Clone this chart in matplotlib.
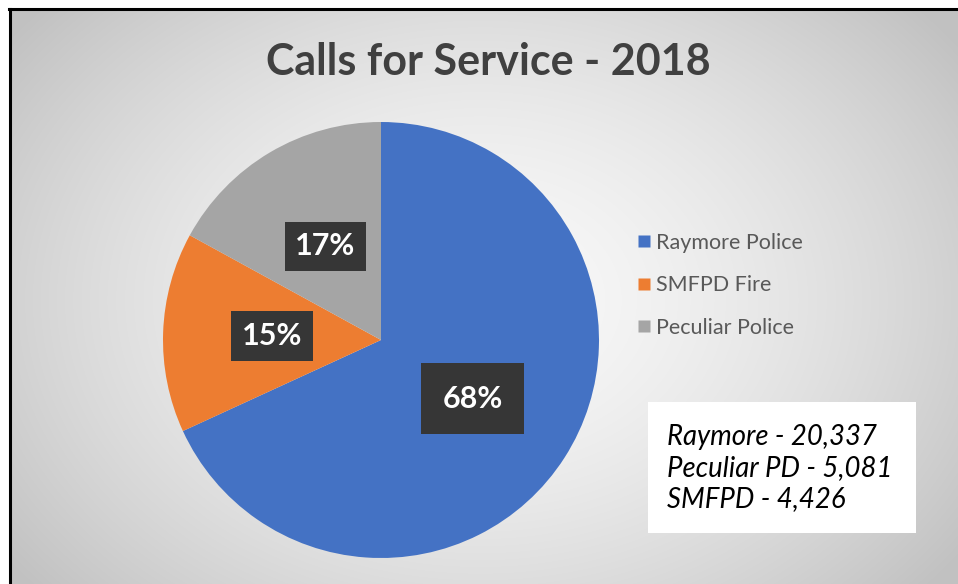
import numpy as np
import matplotlib
matplotlib.use("Agg")
import matplotlib.pyplot as plt
from matplotlib.patches import Rectangle
from matplotlib.lines import Line2D

plt.rcParams['font.family'] = ['Lato', 'DejaVu Sans']

# data
categories = ["Raymore Police", "SMFPD Fire", "Peculiar Police"]
calls = [20337, 4426, 5081]
colors = ["#4472C4", "#ED7D31", "#A5A5A5"]
title = "Calls for Service - 2018"
note_lines = ["Raymore - 20,337", "Peculiar PD - 5,081", "SMFPD - 4,426"]

W, H = 958, 584
fig = plt.figure(figsize=(W / 100, H / 100), dpi=100)
fig.patch.set_facecolor("white")

# background with radial gradient
bg = fig.add_axes([0, 0, 1, 1])
bg.set_xlim(0, W)
bg.set_ylim(H, 0)
bg.axis("off")
yy, xx = np.mgrid[0:H, 0:W]
d = np.sqrt(((xx - 480) / 560.0) ** 2 + ((yy - 300) / 420.0) ** 2)
shade = np.clip(0.975 - 0.2 * d ** 1.6, 0.76, 0.975)
img = np.dstack([shade, shade, shade])
img[:10, :, :] = 1.0
img[:, :9, :] = 1.0
bg.imshow(img, extent=(0, W, H, 0), interpolation="bilinear", aspect="auto")
bg.plot([10, 10], [9, H], color="black", lw=2.2)
bg.plot([9, W], [9, 9], color="black", lw=2.2)

# note box
bg.add_patch(Rectangle((648, 402), 268, 131, facecolor="white", edgecolor="none"))
for i, line in enumerate(note_lines):
    bg.text(667, 437 + i * 31, line, fontsize=19.8, style="italic", color="black",
            va="center", ha="left")

bg.text(488, 62, title, fontsize=31, fontweight="bold", color="#404040",
        ha="center", va="center")

# pie
cx, cy, r = 381, 340, 218
ax = fig.add_axes([(cx - r) / W, (H - cy - r) / H, 2 * r / W, 2 * r / H])
wedges, _, autotexts = ax.pie(calls, colors=colors, startangle=90, counterclock=False,
                              autopct="%1.0f%%", pctdistance=0.5,
                              wedgeprops=dict(linewidth=0))
ax.set_xlim(-1, 1)
ax.set_ylim(-1, 1)
pads = [0.7, 0.35, 0.35]
for t, p in zip(autotexts, pads):
    t.set_color("white")
    t.set_fontsize(22)
    t.set_fontweight("bold")
    t.set_bbox(dict(boxstyle="square,pad=%.2f" % p, facecolor="#363636", edgecolor="none"))

handles = [Line2D([0], [0], marker="s", linestyle="none", markersize=9,
                  markerfacecolor=c, markeredgecolor="none") for c in colors]
leg = fig.legend(handles, categories, loc="upper left",
                 bbox_to_anchor=(624 / W, 1 - 222 / H), frameon=False,
                 fontsize=15.5, labelspacing=1.05, handletextpad=0.1,
                 handlelength=0.9, borderpad=0)
for t in leg.get_texts():
    t.set_color("#595959")

fig.savefig("out.png", dpi=100)
